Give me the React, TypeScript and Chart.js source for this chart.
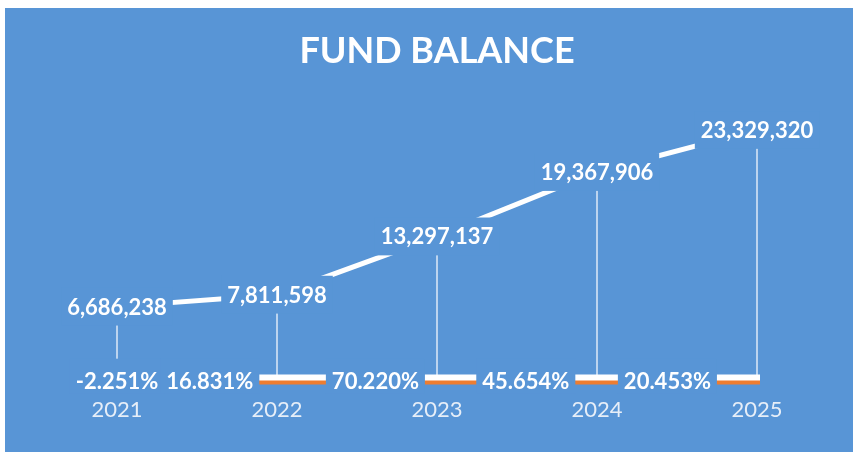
import { useEffect, useRef } from "react";
import { Chart, registerables } from "chart.js";
Chart.register(...registerables);

const years = ["2021", "2022", "2023", "2024", "2025"];
const fundBalance = [6686238, 7811598, 13297137, 19367906, 23329320];
const growthRate = [-0.02251, 0.16831, 0.7022, 0.45654, 0.20453];
const chartTitle = "FUND BALANCE";

const BLUE = "#5895D6";
const ORANGE = "#ED7D31";
const FONT = "Lato, 'Open Sans', sans-serif";
// horizontal shift of each growth label, in category widths
const growthLabelShift = [0, -0.42, -0.385, -0.445, -0.56];

const bgPlugin = {
  id: "bg",
  beforeDraw(chart: any) {
    const { ctx, width, height } = chart;
    ctx.save();
    ctx.fillStyle = "#ffffff";
    ctx.fillRect(0, 0, width, height);
    ctx.fillStyle = BLUE;
    ctx.fillRect(5, 8, width - 5, height - 8);
    ctx.restore();
  },
};

const dropLinePlugin = {
  id: "dropLines",
  beforeDatasetsDraw(chart: any) {
    const { ctx } = chart;
    const meta = chart.getDatasetMeta(0);
    const zero = chart.scales.y.getPixelForValue(0);
    ctx.save();
    ctx.strokeStyle = "rgba(255,255,255,0.8)";
    ctx.lineWidth = 1.5;
    meta.data.forEach((p: any) => {
      ctx.beginPath();
      ctx.moveTo(p.x, p.y);
      ctx.lineTo(p.x, zero);
      ctx.stroke();
    });
    ctx.restore();
  },
};

const shadowPlugin = {
  id: "orangeShadow",
  beforeDatasetDraw(chart: any, args: any) {
    if (args.index === 1) {
      const ctx = chart.ctx;
      ctx.save();
      ctx.shadowColor = ORANGE;
      ctx.shadowOffsetX = 0;
      ctx.shadowOffsetY = 4;
      ctx.shadowBlur = 0;
    }
  },
  afterDatasetDraw(chart: any, args: any) {
    if (args.index === 1) chart.ctx.restore();
  },
};

const labelPlugin = {
  id: "valueLabels",
  afterDatasetsDraw(chart: any) {
    const { ctx } = chart;
    const size = 22;
    const cap = size * 0.72;
    ctx.save();
    ctx.font = `bold ${size}px ${FONT}`;
    ctx.textAlign = "center";
    ctx.textBaseline = "alphabetic";
    const meta0 = chart.getDatasetMeta(0);
    meta0.data.forEach((p: any, i: number) => {
      const txt = fundBalance[i].toLocaleString("en-US");
      const w = ctx.measureText(txt).width;
      const cx = p.x;
      const cy = p.y;
      ctx.fillStyle = BLUE;
      ctx.fillRect(cx - w / 2 - 6, cy - cap / 2 - 11, w + 12, cap + 22);
      ctx.fillStyle = "#ffffff";
      ctx.fillText(txt, cx, cy + cap / 2);
    });
    const meta1 = chart.getDatasetMeta(1);
    const xs = chart.scales.x;
    const catW = xs.getPixelForValue(1) - xs.getPixelForValue(0);
    meta1.data.forEach((p: any, i: number) => {
      const txt = (growthRate[i] * 100).toFixed(3) + "%";
      const w = ctx.measureText(txt).width;
      const cx = p.x + growthLabelShift[i] * catW;
      const cy = p.y + 3;
      ctx.fillStyle = BLUE;
      ctx.fillRect(cx - w / 2 - 6, cy - cap / 2 - 14, w + 12, cap + 19);
      ctx.fillStyle = "#ffffff";
      ctx.fillText(txt, cx, cy + cap / 2);
    });
    ctx.restore();
  },
};

export default function App() {
  const ref = useRef<HTMLCanvasElement | null>(null);
  useEffect(() => {
    if (!ref.current) return;
    const chart = new Chart(ref.current, {
      type: "line",
      data: {
        labels: years,
        datasets: [
          {
            label: "Fund Balance",
            data: fundBalance,
            borderColor: "#ffffff",
            borderWidth: 5,
            borderCapStyle: "round",
            pointRadius: 0,
            tension: 0,
            clip: false,
          } as any,
          {
            label: "Growth",
            data: growthRate,
            borderColor: "#ffffff",
            borderWidth: 6,
            borderCapStyle: "square",
            pointRadius: 0,
            tension: 0,
            clip: false,
          } as any,
        ],
      },
      options: {
        animation: false,
        responsive: false,
        layout: { padding: { left: 37, right: 16, top: 0, bottom: 10 } },
        plugins: {
          legend: { display: false },
          tooltip: { enabled: false },
          title: {
            display: true,
            text: chartTitle,
            color: "#ffffff",
            font: { family: FONT, size: 36, weight: "bold" },
            padding: { top: 30, bottom: 39 },
          },
        },
        scales: {
          x: {
            offset: true,
            grid: { display: false, drawTicks: false },
            border: { display: false },
            ticks: {
              color: "#E6EEF8",
              font: { family: FONT, size: 22 },
              padding: 19,
            },
          },
          y: {
            display: false,
            min: 0,
            max: 25000000,
          },
        },
      },
      plugins: [bgPlugin, dropLinePlugin, shadowPlugin, labelPlugin],
    });
    return () => chart.destroy();
  }, []);
  return (
    <div style={{ position: "fixed", left: 0, top: 0, width: 853, height: 452 }}>
      <canvas ref={ref} width={853} height={452} />
    </div>
  );
}
